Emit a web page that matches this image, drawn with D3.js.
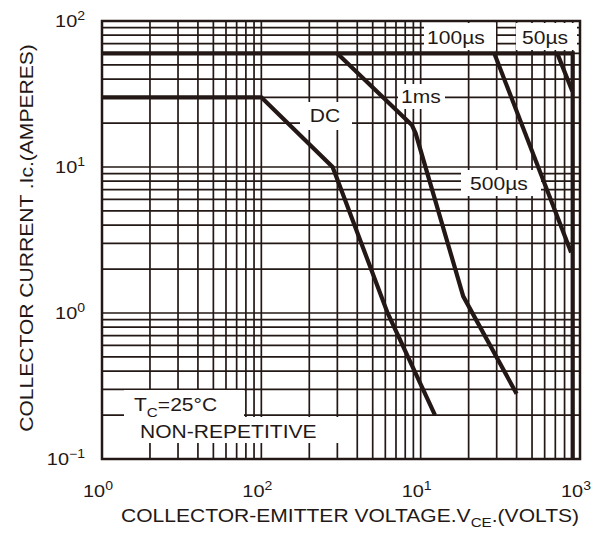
<!DOCTYPE html>
<html>
<head>
<meta charset="utf-8">
<script src="https://cdn.jsdelivr.net/npm/d3@7"></script>
<style>
  html, body { margin: 0; padding: 0; background: #fff; }
  svg { display: block; }
</style>
</head>
<body>
<div id="chart"></div>
<script>
// axis ticks (labels copied as printed on the sheet)
const xTickValues = [1, 10, 100, 1000];
const xTickExps = ["0", "2", "1", "3"];
const yTickValues = [100, 10, 1, 0.1];
const yTickExps = ["2", "1", "0", "\u22121"];

// safe operating area curves (V in volts, I in amperes)
const dcV = [1, 10, 28, 30, 62, 123];
const dcI = [30, 30, 10, 8.2, 1, 0.2];
const ms1V = [30, 88, 93, 185, 400];
const ms1I = [60, 19.4, 17, 1.3, 0.28];
const us100V = [290, 880];
const us100I = [60, 2.6];
const us50V = [720, 895];
const us50I = [60, 33];
const limitV = [1, 900, 900];
const limitI = [60, 60, 0.1];

const W = 599, H = 540;
const ink = "#231815";
const stretch = 1.17;

const x = d3.scaleLog().domain([1, 1000]).range([102, 580]);
const y = d3.scaleLog().domain([0.1, 100]).range([459, 21]);

const svg = d3.select("#chart").append("svg")
    .attr("width", W)
    .attr("height", H)
    .attr("viewBox", [0, 0, W, H])
    .attr("font-family", "'Liberation Sans', Arial, sans-serif")
    .attr("fill", ink);

// grid: 1..9 in each decade
const xGrid = [];
for (let d = 1; d < 1000; d *= 10) for (let k = 1; k < 10; k++) if (d * k > 1) xGrid.push(d * k);
const yGrid = [];
for (let d = 0.1; d < 99; d *= 10) for (let k = 1; k < 10; k++) if (d * k > 0.1001) yGrid.push(d * k);

const grid = svg.append("g").attr("stroke", ink).attr("stroke-width", 1.7);
grid.selectAll("line.v")
  .data(xGrid)
  .join("line")
    .attr("class", "v")
    .attr("x1", d => x(d)).attr("x2", d => x(d))
    .attr("y1", y(100)).attr("y2", y(0.1));
grid.selectAll("line.h")
  .data(yGrid)
  .join("line")
    .attr("class", "h")
    .attr("x1", x(1)).attr("x2", x(1000))
    .attr("y1", d => y(d)).attr("y2", d => y(d));

// white patches behind the annotations
const masks = [
  [424, 23, 72, 27],   // 100µs
  [516, 23, 61, 27],   // 50µs
  [398, 84, 47, 25],   // 1ms
  [300, 102, 52, 28],  // DC
  [461, 170, 80, 26],  // 500µs
  [124, 390, 120, 53], // Tc
  [124, 417, 224, 26]  // non-repetitive
];
svg.append("g").selectAll("rect")
  .data(masks)
  .join("rect")
    .attr("x", d => d[0]).attr("y", d => d[1])
    .attr("width", d => d[2]).attr("height", d => d[3])
    .attr("fill", "#fff");

// frame
svg.append("rect")
    .attr("x", x(1)).attr("y", y(100))
    .attr("width", x(1000) - x(1)).attr("height", y(0.1) - y(100))
    .attr("fill", "none").attr("stroke", ink).attr("stroke-width", 2.5);

// curves
const line = d3.line().x(d => x(d[0])).y(d => y(d[1]));
const curves = [[dcV, dcI], [ms1V, ms1I], [us100V, us100I], [us50V, us50I], [limitV, limitI]];
svg.append("g").selectAll("path")
  .data(curves.map(([v, i]) => d3.zip(v, i)))
  .join("path")
    .attr("d", line)
    .attr("fill", "none")
    .attr("stroke", ink)
    .attr("stroke-width", 4.2)
    .attr("stroke-linejoin", "miter");

function txt(px, py, anchor, size, rot) {
  return svg.append("text")
      .attr("transform", `translate(${px},${py})` + (rot ? ` rotate(${rot})` : "") + ` scale(${stretch},1)`)
      .attr("text-anchor", anchor)
      .attr("font-size", size);
}

// curve labels
txt(456, 44, "middle", 18).text("100\u00b5s");
txt(545, 44, "middle", 18).text("50\u00b5s");
txt(421, 103, "middle", 18).text("1ms");
txt(325, 122, "middle", 18).text("DC");
txt(499, 190, "middle", 18).text("500\u00b5s");

// conditions
const tc = txt(134, 411, "start", 18);
tc.append("tspan").text("T");
tc.append("tspan").attr("font-size", 13).attr("dy", 6).text("C");
tc.append("tspan").attr("dy", -6).text("=25\u00b0C");
txt(140, 438, "start", 18).text("NON-REPETITIVE");

// tick labels
yTickValues.forEach((v, i) => {
  const t = txt(85, y(v) + 6, "end", 17);
  t.append("tspan").text("10");
  t.append("tspan").attr("font-size", 12).attr("dy", -7).text(yTickExps[i]);
});
xTickValues.forEach((v, i) => {
  const t = txt(x(v) - 4, 497, "middle", 17);
  t.append("tspan").text("10");
  t.append("tspan").attr("font-size", 12).attr("dy", -7).text(xTickExps[i]);
});

// axis titles
const xt = txt(350, 522, "middle", 18);
xt.append("tspan").text("COLLECTOR-EMITTER VOLTAGE.V");
xt.append("tspan").attr("font-size", 13).attr("dy", 5).text("CE");
xt.append("tspan").attr("dy", -5).text(".(VOLTS)");

txt(33, 238, "middle", 18, -90).text("COLLECTOR CURRENT .Ic.(AMPERES)");
</script>
</body>
</html>
